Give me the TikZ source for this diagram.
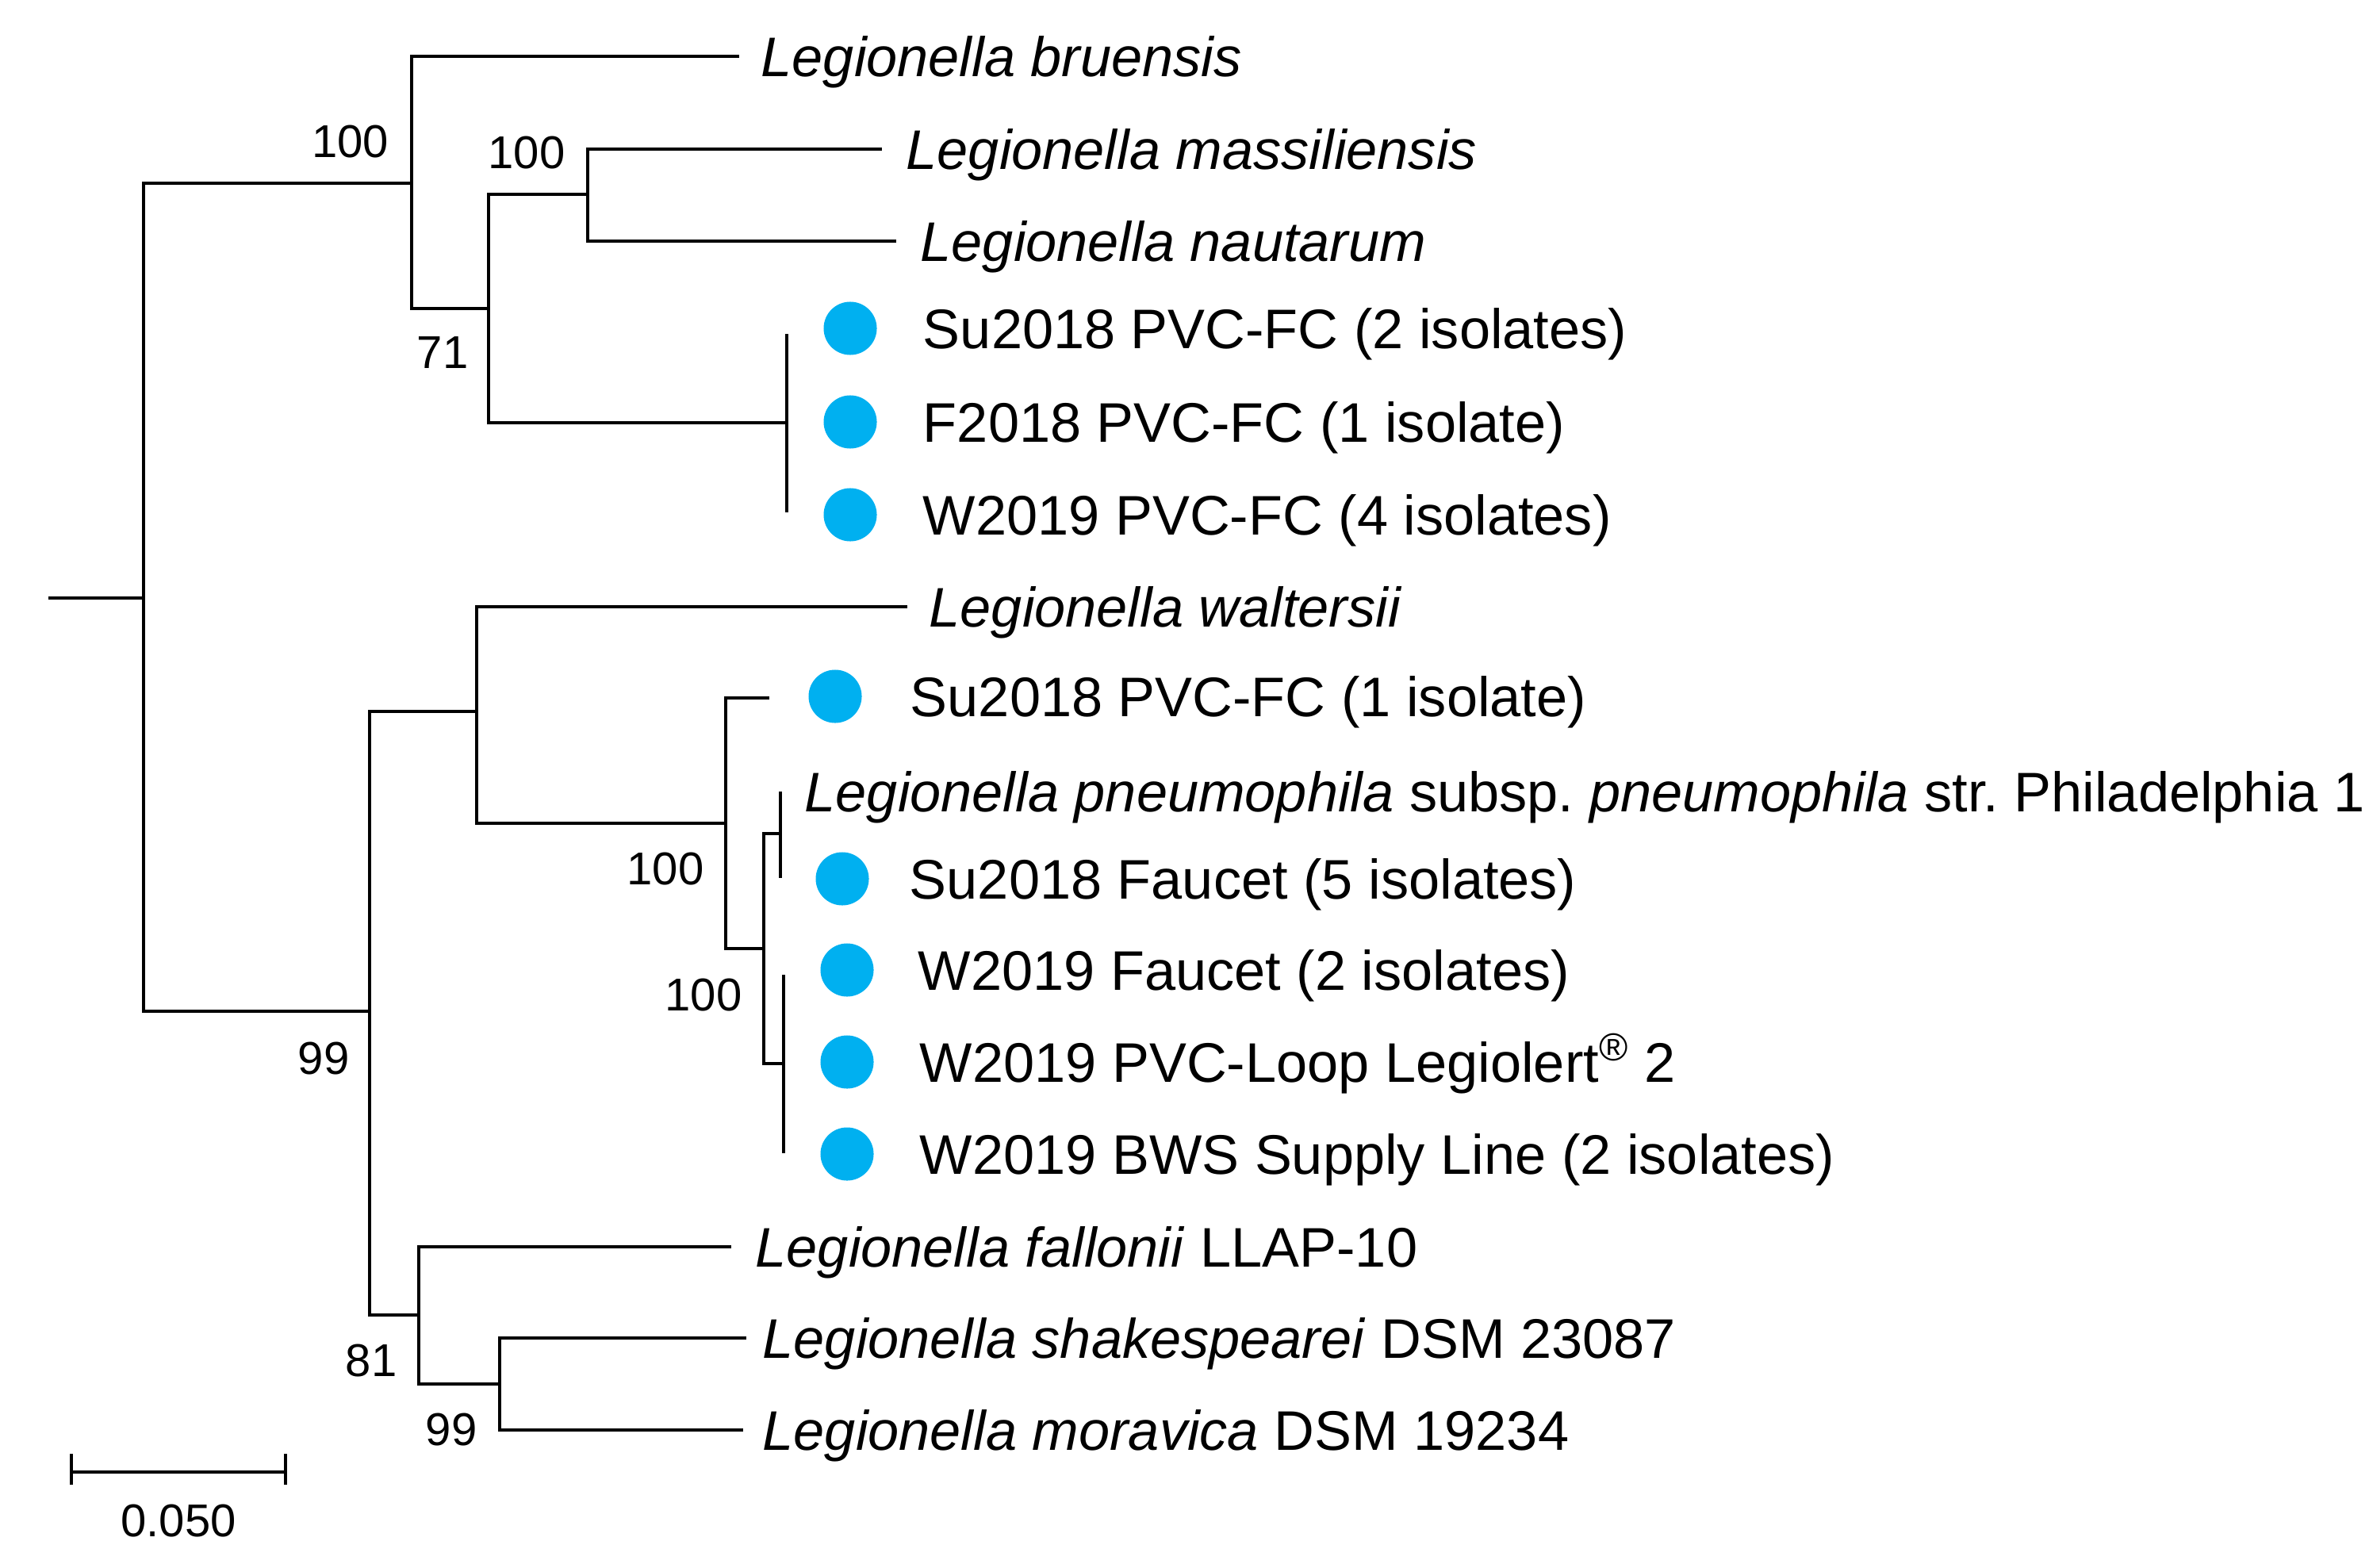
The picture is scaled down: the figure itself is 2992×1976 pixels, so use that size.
\documentclass[tikz,border=0pt]{standalone}
\usepackage{fontspec}
\setmainfont{Liberation Sans}
\usetikzlibrary{positioning}
\definecolor{isolateblue}{RGB}{0,176,240}
\frenchspacing

\begin{document}
\begin{tikzpicture}[x=0.01cm,y=-0.01cm,
  branch/.style={draw=black,line width=1.25pt},
  twig/.style={draw=black,line width=1pt},
  taxon/.style={inner sep=0pt,font=\fontsize{20}{24}\selectfont,text height=18.6pt,text depth=4.2pt},
  boot/.style={inner sep=0pt,font=\fontsize{16.5}{20}\selectfont},
  isodot/.style={circle,fill=isolateblue,inner sep=0pt,minimum size=0.67cm}]
  \useasboundingbox (0,0) rectangle (2992,1976);

  \coordinate (base) at (61,754);
  \coordinate (root) at (181,754);
  \coordinate (n1) at (519,231);
  \coordinate (n2) at (616,389);
  \coordinate (n3) at (741,245);
  \coordinate (fc) at (992,533);
  \coordinate (n4) at (466,1275);
  \coordinate (n5) at (601,897);
  \coordinate (n6) at (915,1038);
  \coordinate (n7) at (963,1196);
  \coordinate (pn) at (984,1051);
  \coordinate (lc) at (988,1341);
  \coordinate (n8) at (528,1658);
  \coordinate (n9) at (630,1745);

  \coordinate (bru) at (932,71);
  \coordinate (mas) at (1112,188);
  \coordinate (nau) at (1130,304);
  \coordinate (fc1) at (992,421);
  \coordinate (fc3) at (992,646);
  \coordinate (wal) at (1144,765);
  \coordinate (su1) at (970,880);
  \coordinate (phi) at (984,998);
  \coordinate (suf) at (984,1107);
  \coordinate (lc1) at (988,1229);
  \coordinate (lc3) at (988,1454);
  \coordinate (fal) at (922,1572);
  \coordinate (sha) at (941,1687);
  \coordinate (mor) at (937,1803);

  \draw[branch] (base) -- (root);
  \draw[branch] (root) |- (n1);
  \draw[branch] (root) |- (n4);
  \draw[branch] (n1) |- (bru);
  \draw[branch] (n1) |- (n2);
  \draw[branch] (n2) |- (n3);
  \draw[branch] (n2) |- (fc);
  \draw[branch] (n3) |- (mas);
  \draw[branch] (n3) |- (nau);
  \draw[twig] (fc1) -- (fc3);
  \draw[branch] (n4) |- (n5);
  \draw[branch] (n4) |- (n8);
  \draw[branch] (n5) |- (wal);
  \draw[branch] (n5) |- (n6);
  \draw[branch] (n6) |- (su1);
  \draw[branch] (n6) |- (n7);
  \draw[branch] (n7) |- (pn);
  \draw[branch] (n7) |- (lc);
  \draw[twig] (phi) -- (suf);
  \draw[twig] (lc1) -- (lc3);
  \draw[branch] (n8) |- (fal);
  \draw[branch] (n8) |- (n9);
  \draw[branch] (n9) |- (sha);
  \draw[branch] (n9) |- (mor);

  \node[taxon,right=0.27cm of bru] (tbru) {\textit{Legionella bruensis}};
  \node[taxon,right=0.3cm of mas] (tmas) {\textit{Legionella massiliensis}};
  \node[taxon,right=0.3cm of nau] (tnau) {\textit{Legionella nautarum}};
  \node[taxon,right=0.27cm of wal] (twal) {\textit{Legionella waltersii}};
  \node[taxon,right=0.3cm of phi] (tphi) {\textit{Legionella pneumophila} subsp. \textit{pneumophila} str. Philadelphia 1};
  \node[taxon,right=0.3cm of fal] (tfal) {\textit{Legionella fallonii} LLAP-10};
  \node[taxon,right=0.2cm of sha] (tsha) {\textit{Legionella shakespearei} DSM 23087};
  \node[taxon,right=0.24cm of mor] (tmor) {\textit{Legionella moravica} DSM 19234};

  \node[isodot] (dfc1) at (1072,414) {};
  \node[isodot] (dfc2) at (1072,532) {};
  \node[isodot] (dfc3) at (1072,649) {};
  \node[isodot] (dsu1) at (1053,878) {};
  \node[isodot] (dsuf) at (1062,1108) {};
  \node[isodot] (dlc1) at (1068,1223) {};
  \node[isodot] (dlc2) at (1068,1339) {};
  \node[isodot] (dlc3) at (1068,1455) {};
  \node[taxon,right=0.57cm of dfc1] (tfc1) {Su2018 PVC-FC (2 isolates)};
  \node[taxon,right=0.57cm of dfc2] (tfc2) {F2018 PVC-FC (1 isolate)};
  \node[taxon,right=0.57cm of dfc3] (tfc3) {W2019 PVC-FC (4 isolates)};
  \node[taxon,right=0.6cm of dsu1] (tsu1) {Su2018 PVC-FC (1 isolate)};
  \node[taxon,right=0.5cm of dsuf] (tsuf) {Su2018 Faucet (5 isolates)};
  \node[taxon,right=0.55cm of dlc1] (tlc1) {W2019 Faucet (2 isolates)};
  \node[taxon,right=0.57cm of dlc2] (tlc2) {W2019 PVC-Loop Legiolert\textsuperscript{\textregistered} 2};
  \node[taxon,right=0.57cm of dlc3] (tlc3) {W2019 BWS Supply Line (2 isolates)};

  \node[boot,above left=0.31cm and 0.28cm of n1] (b1) {100};
  \node[boot,above left=0.31cm and 0.28cm of n3] (b3) {100};
  \node[boot,below left=0.35cm and 0.25cm of n2] (b2) {71};
  \node[boot,below left=0.36cm and 0.27cm of n6] (b6) {100};
  \node[boot,below left=0.37cm and 0.27cm of n7] (b7) {100};
  \node[boot,below left=0.38cm and 0.25cm of n4] (b4) {99};
  \node[boot,below left=0.36cm and 0.27cm of n8] (b8) {81};
  \node[boot,below left=0.36cm and 0.28cm of n9] (b9) {99};

  \coordinate (sbl) at (90,1856);
  \coordinate (sbr) at (360,1856);
  \coordinate (sbm) at (225,1856);
  \draw[branch] (sbl) -- (sbr);
  \draw[branch] (sbl) ++(0,-23) -- ++(0,39);
  \draw[branch] (sbr) ++(0,-23) -- ++(0,39);
  \node[boot,below=0.4cm of sbm] (sblab) {0.050};
\end{tikzpicture}
\end{document}
